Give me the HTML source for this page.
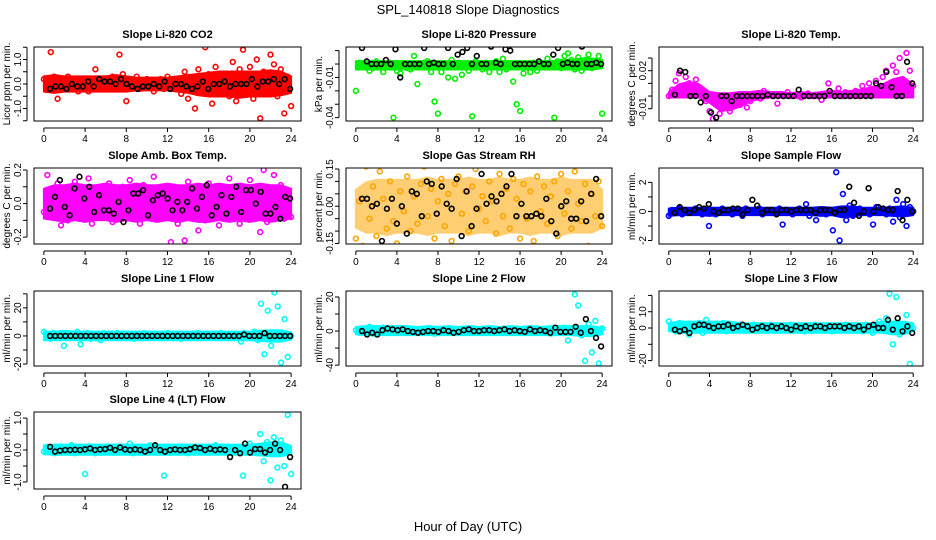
<!DOCTYPE html>
<html><head><meta charset="utf-8"><style>
body{margin:0;background:#fff;}
svg{display:block;font-family:"Liberation Sans",sans-serif;}
</style></head><body>
<svg id="chart" width="936" height="540" viewBox="0 0 936 540" xmlns="http://www.w3.org/2000/svg">
<text x="468" y="14" text-anchor="middle" font-size="13">SPL_140818  Slope Diagnostics</text>
<text x="468" y="531" text-anchor="middle" font-size="13">Hour of Day (UTC)</text>
</svg>
<script>
// ---- data (colored = all samples, black = summary) ----
const xTicks = [0,4,8,12,16,20,24];
const titles = ["Slope Li-820 CO2","Slope Li-820 Pressure","Slope Li-820 Temp.","Slope Amb. Box Temp.","Slope Gas Stream RH","Slope Sample Flow","Slope Line 1 Flow","Slope Line 2 Flow","Slope Line 3 Flow","Slope Line 4 (LT) Flow"];
const yTitles = ["Licor ppm per min.","kPa per min.","degrees C per min.","degrees C per min.","percent per min.","ml/min per min.","ml/min per min.","ml/min per min.","ml/min per min.","ml/min per min."];
const colors = ["#ff0000","#00ee00","#ff00ff","#ff00ff","#ffa500","#0000ff","#00ffff","#00ffff","#00ffff","#00ffff"];
const yLims = [[-1.51,1.51],[-0.0425,0.0127],[-0.0197,0.0387],[-0.241,0.212],[-0.152,0.154],[-2.24,2.99],[-21.4,32],[-41,47],[-23.3,22.7],[-1.22,1.19]];
const yTickVals = [[-1.5,-1,-0.5,0,0.5,1,1.5],[-0.04,-0.03,-0.02,-0.01,0,0.01],[-0.01,0,0.01,0.02,0.03],[-0.2,-0.1,0,0.1,0.2],[-0.15,-0.1,-0.05,0,0.05,0.1,0.15],[-2,-1,0,1,2],[-20,-10,0,10,20,30],[-40,-20,0,20,40],[-20,-10,0,10,20],[-1,-0.5,0,0.5,1]];
const yTickLabels = [["","-1.0","","0.0","","1.0",""],["-0.04","","","-0.01","",""],["-0.01","","","0.02",""],["-0.2","","0.0","","0.2"],["-0.15","","","0.00","","","0.15"],["-2","","0","","2"],["-20","","0","","20",""],["-40","","0","","20"],["-20","","0","10",""],["-1.0","","0.0","","1.0"]];

// dense-sample envelope per hour (0..24)
const lo0 = [-0.25,-0.3,-0.25,-0.25,-0.25,-0.25,-0.25,-0.25,-0.25,-0.2,-0.2,-0.2,-0.2,-0.25,-0.3,-0.4,-0.45,-0.45,-0.45,-0.5,-0.45,-0.45,-0.45,-0.4,-0.3];
const hi0 = [0.25,0.3,0.25,0.25,0.25,0.25,0.25,0.3,0.25,0.2,0.2,0.2,0.2,0.25,0.3,0.35,0.4,0.45,0.45,0.45,0.45,0.45,0.5,0.45,0.25];
const lo1 = [-0.003,-0.003,-0.003,-0.003,-0.003,-0.003,-0.003,-0.003,-0.003,-0.003,-0.003,-0.003,-0.003,-0.003,-0.003,-0.003,-0.003,-0.003,-0.003,-0.003,-0.003,-0.003,-0.003,-0.003,-0.002];
const hi1 = [0.001,0.001,0.001,0.001,0.001,0.001,0.001,0.001,0.001,0.001,0.001,0.001,0.001,0.001,0.001,0.001,0.001,0.001,0.001,0.001,0.002,0.002,0.003,0.003,0.002];
const lo2 = [0,0,0,0,-0.004,-0.01,-0.01,-0.007,-0.003,-0.001,0,0,0,0,0,0,0,0,0,0,0,0,0,0,0];
const hi2 = [0.002,0.008,0.01,0.008,0.002,0.001,0.001,0.002,0.002,0.003,0.002,0.002,0.001,0.002,0.001,0.002,0.003,0.002,0.003,0.004,0.006,0.008,0.012,0.014,0.008];
const lo3 = [-0.08,-0.09,-0.1,-0.09,-0.1,-0.09,-0.09,-0.1,-0.09,-0.1,-0.09,-0.1,-0.09,-0.1,-0.09,-0.1,-0.1,-0.09,-0.1,-0.09,-0.1,-0.09,-0.1,-0.09,-0.08];
const hi3 = [0.08,0.1,0.1,0.11,0.1,0.1,0.11,0.1,0.1,0.11,0.1,0.1,0.11,0.1,0.1,0.11,0.1,0.11,0.1,0.11,0.1,0.11,0.1,0.1,0.08];
const lo4 = [-0.08,-0.1,-0.1,-0.11,-0.1,-0.1,-0.1,-0.11,-0.1,-0.1,-0.1,-0.11,-0.1,-0.1,-0.11,-0.1,-0.1,-0.11,-0.1,-0.1,-0.11,-0.1,-0.1,-0.1,-0.08];
const hi4 = [0.06,0.09,0.1,0.1,0.1,0.1,0.1,0.11,0.1,0.1,0.1,0.11,0.1,0.1,0.11,0.1,0.1,0.11,0.1,0.1,0.11,0.1,0.1,0.1,0.06];
const lo5 = [-0.2,-0.15,-0.15,-0.15,-0.2,-0.15,-0.15,-0.15,-0.15,-0.15,-0.15,-0.15,-0.15,-0.15,-0.15,-0.2,-0.15,-0.3,-0.25,-0.15,-0.15,-0.15,-0.2,-0.25,-0.15];
const hi5 = [0.1,0.15,0.15,0.15,0.15,0.15,0.15,0.15,0.15,0.15,0.15,0.15,0.15,0.15,0.15,0.2,0.15,0.25,0.25,0.15,0.15,0.15,0.2,0.25,0.15];
const lo6 = [-2,-2,-2,-2,-2,-2,-2,-2,-2,-2,-2,-2,-2,-2,-2,-2,-2,-2,-2,-2,-2,-2.5,-3,-3,-1.5];
const hi6 = [2,2,2.5,2,2,2,2,2,2,2,2,2,2,2,2,2,2,2,2,2,2,2.5,3,3,1.5];
const lo7 = [-2,-3,-3,-3,-3,-3,-3,-3,-3,-3,-3,-3,-3,-3,-3,-3,-3,-3,-3,-3,-3,-3,-4,-4,-2];
const hi7 = [3,4,4,4,4,4,3,4,3,4,3,4,3,4,3,4,3,4,3,4,4,4,4,4,2];
const lo8 = [-1,-2,-2,-2,-2,-2,-2,-2,-2,-2,-2,-2,-2,-2,-2,-2,-2,-2,-2,-2,-2,-2,-3,-3,-1];
const hi8 = [2,3,3,3,3,3,3,2,2,2,2,2,2,2,2,2,2,2,2,2,2,3,3,3,2];
const lo9 = [-0.08,-0.1,-0.1,-0.1,-0.1,-0.1,-0.1,-0.1,-0.1,-0.1,-0.1,-0.1,-0.1,-0.1,-0.1,-0.1,-0.1,-0.1,-0.1,-0.1,-0.1,-0.12,-0.15,-0.15,-0.08];
const hi9 = [0.1,0.12,0.12,0.12,0.12,0.12,0.12,0.12,0.12,0.12,0.12,0.12,0.12,0.12,0.12,0.12,0.12,0.12,0.12,0.12,0.12,0.15,0.2,0.2,0.08];
const bandLo = [lo0,lo1,lo2,lo3,lo4,lo5,lo6,lo7,lo8,lo9];
const bandHi = [hi0,hi1,hi2,hi3,hi4,hi5,hi6,hi7,hi8,hi9];

const c0 = [0.2,-0.2,1.3,0.3,-0.6,0.1,-0.2,0.3,-0.1,0.2,-0.3,0.1,0.2,-0.3,-0.1,0.6,0.2,-0.2,0.1,-0.1,0.3,-0.2,1.2,0.4,-0.7,0.2,-0.1,0.3,-0.2,0.1,0.2,-0.1,-0.3,0.1,0.2,-0.2,0.3,0.1,-0.1,0.2,-0.4,0.5,-0.6,0.2,-1.0,0.6,-0.3,1.5,0.4,-0.8,0.7,-0.2,0.3,1.8,-0.5,0.9,-0.7,0.6,1.4,-0.4,0.7,-0.6,1.0,-1.4,0.5,-0.3,1.2,0.8,-0.5,0.6,-1.2,0.3,-0.9];
const b0 = [-0.2,-0.1,-0.1,-0.2,0.0,-0.1,-0.1,0.1,-0.1,0.2,0.1,0.1,0.0,0.2,0.0,-0.1,-0.2,-0.1,-0.1,0.0,-0.1,0.1,-0.2,0.0,0.0,-0.1,-0.2,-0.1,0.1,-0.2,0.0,0.0,0.1,-0.1,0.0,0.0,0.0,0.2,-0.1,0.1,0.1,0.2,0.0,0.2,-0.2];
const c1 = [-0.02,0.001,-0.001,0.000,-0.005,-0.003,0.002,-0.001,-0.006,-0.002,0.001,-0.04,-0.005,-0.007,0.000,-0.003,-0.004,0.006,-0.015,-0.002,0.001,0.002,-0.006,-0.028,-0.037,-0.006,0.000,-0.010,0.003,-0.011,0.001,-0.008,0.000,-0.005,-0.039,0.002,-0.002,-0.004,0.001,-0.006,0.000,0.002,-0.006,0.004,-0.004,-0.002,-0.013,-0.030,-0.035,-0.007,-0.002,-0.006,0.001,-0.005,0.000,-0.002,0.004,-0.001,-0.040,0.002,-0.003,0.006,0.008,0.003,-0.004,0.005,-0.005,0.003,0.007,-0.003,0.001,0.006,-0.037];
const b1 = [0.012,0.002,0.0,0.0,0.0,0.003,0.0,0.011,-0.01,0.0,0.0,0.0,0.0,0.012,0.0,0.001,0.0,0.0,0.012,0.0,0.007,0.009,0.012,0.0,0.006,0.0,0.0,0.013,0.001,0.0,0.011,0.010,0.0,0.0,0.0,0.0,0.0,0.002,0.0,0.0,0.007,0.012,0.0,0.001,0.0,0.0,0.013,0.0,0.0,0.001,0.0];
const c2 = [0.0,0.005,0.012,0.018,0.008,0.015,0.010,0.004,0.013,0.006,0.0,-0.004,-0.012,-0.018,-0.006,-0.014,-0.010,-0.008,-0.012,-0.005,-0.003,-0.007,0.001,-0.009,-0.004,0.0,0.002,-0.002,0.004,0.0,0.001,0.0,-0.006,0.001,0.0,0.003,0.0,0.001,0.0,-0.001,0.0,0.002,0.0,0.001,0.0,-0.003,0.0,0.010,0.002,0.0,0.006,0.0,0.003,0.0,0.001,0.004,0.0,0.008,0.001,0.010,0.004,0.012,0.006,0.015,0.020,0.008,0.024,0.019,0.030,0.012,0.034,0.020,0.008];
const b2 = [0.001,0.020,0.019,0.0,0.0,-0.005,0.0,-0.013,-0.017,0.0,0.0,-0.004,0.0,0.0,0.0,0.0,0.0,0.0,0.001,0.0,0.0,0.0,0.0,0.0,0.005,0.0,0.0,0.0,0.0,0.0,0.004,0.0,0.0,0.0,0.0,0.0,0.0,0.0,0.0,0.010,0.008,0.019,0.007,0.0,0.0,0.027,0.010];
const c3 = [-0.05,0.17,-0.07,0.05,0.12,-0.13,0.08,-0.10,0.02,0.13,-0.06,0.10,-0.03,0.15,-0.12,0.06,-0.08,0.09,-0.01,0.12,-0.11,0.04,-0.05,0.10,-0.09,0.14,-0.02,0.07,-0.12,0.11,-0.06,0.03,0.16,-0.08,0.05,-0.04,0.10,-0.23,0.08,-0.12,0.02,-0.22,0.13,-0.06,0.09,-0.16,0.04,-0.10,0.12,-0.03,0.07,-0.13,0.10,-0.07,0.15,-0.04,0.06,-0.12,0.09,-0.08,0.14,-0.02,0.05,-0.17,0.20,-0.11,0.08,0.17,-0.06,0.11,-0.09,0.03,-0.08];
const b3 = [-0.03,0.04,0.14,-0.02,-0.07,0.09,0.16,0.03,0.10,-0.05,0.05,-0.04,-0.04,-0.06,0.01,-0.11,-0.04,0.06,0.06,0.08,-0.07,0.02,0.05,0.06,0.03,-0.04,0.01,-0.04,0.01,0.09,-0.03,0.04,0.11,-0.07,-0.02,0.05,-0.06,0.04,0.10,-0.05,0.08,0.08,0.00,0.07,-0.06,-0.06,-0.02,-0.09,0.04,0.03];
const c4 = [-0.13,0.02,-0.16,0.16,-0.05,0.08,-0.12,0.14,0.03,-0.09,0.10,-0.06,-0.15,0.06,-0.02,0.12,-0.10,0.04,-0.07,0.09,0.16,-0.04,0.07,-0.13,0.02,0.11,-0.08,0.05,-0.14,0.09,0.12,-0.03,0.06,-0.10,0.08,0.15,-0.01,0.04,-0.06,0.10,0.02,-0.11,0.13,-0.04,0.07,-0.09,0.11,0.03,-0.13,0.09,-0.05,0.06,-0.14,0.12,-0.02,0.08,-0.07,0.04,0.10,-0.12,0.13,-0.03,0.06,-0.09,0.14,0.01,-0.06,0.09,-0.16,0.05,-0.04,0.10,-0.08];
const b4 = [0.03,0.03,0.00,0.01,-0.14,-0.01,0.03,-0.07,0.00,-0.11,0.06,0.05,-0.04,0.10,0.09,-0.03,0.08,0.01,-0.01,0.11,-0.12,0.06,-0.08,-0.01,0.13,0.01,0.04,0.02,0.05,0.08,0.13,-0.04,0.01,-0.04,-0.04,-0.03,-0.04,0.03,-0.06,-0.11,0.00,0.02,-0.05,-0.05,0.02,-0.06,0.05,0.11,-0.04];
const c5 = [-0.3,0.1,-0.1,0.2,-0.2,0.1,0.0,-0.1,0.2,0.1,-0.2,0.0,-1.0,0.1,-0.2,0.0,0.2,-0.1,0.1,-0.2,0.0,0.1,-0.3,0.2,0.0,-0.1,0.1,0.2,-0.2,0.0,0.1,-0.1,0.0,0.2,-0.9,0.1,0.0,-0.2,0.1,0.2,0.0,0.5,-0.3,0.0,-0.6,0.1,0.0,-0.2,0.1,-1.3,2.7,-2.0,1.2,-0.6,0.4,-0.3,0.1,0.2,-0.1,0.0,-0.2,-0.9,0.3,0.0,0.1,-0.2,0.2,-0.7,0.8,-0.4,0.5,-1.0,0.3,0.0];
const b5 = [-0.1,0.3,0.1,-0.1,0.1,0.3,0.2,0.5,0.0,-0.1,0.1,0.1,0.2,0.2,-0.2,0.1,0.8,0.4,-0.1,0.1,0.1,-0.2,0.1,0.1,0.0,0.1,0.1,0.1,0.1,-0.1,0.1,0.1,0.1,-0.1,0.1,0.1,1.7,0.6,-0.3,0.0,1.6,0.0,0.3,0.2,0.1,0.1,1.4,-0.6,0.8,0.0];
const c6 = [3,0,-2,2,1,-1,-7,2,0,-1,3,-6,1,2,-2,0,1,-3,2,0,1,-1,2,0,-1,1,0,-2,1,0,2,-1,0,1,-1,0,1,2,-1,0,1,-2,0,1,-1,0,2,-1,0,1,0,-1,1,2,-1,0,1,0,-1,-4,2,-1,0,3,-3,23,-13,18,-7,31,21,-19,12,-15,0];
const b6 = [0,0,0,0,0,0,0,0,0,0,0,0,0,0,0,0,0,0,0,0,0,0,0,0,0,0,0,0,0,0,0,0,0,0,0,0,0,0,1,0,0,0,2,0,0,0,0,0];
const c7 = [1,-2,3,0,5,-3,2,-1,4,0,-2,3,1,-1,2,0,3,-2,1,0,-1,2,1,-3,0,2,-1,3,0,-2,1,2,-1,0,3,-2,1,0,2,-1,3,0,-2,1,2,-1,0,3,-1,2,0,-2,1,3,-1,0,2,-3,1,0,-2,4,-11,1,43,30,-5,-35,8,-25,12,-38,3];
const b7 = [0,-4,-2,-4,1,3,2,1,2,0,-1,-2,-1,0,0,-1,1,0,-2,-1,1,2,0,0,1,1,0,1,2,0,1,0,-1,2,0,1,0,-2,4,-1,-1,-1,5,-2,14,0,-8,-18];
const c8 = [4,0,-2,3,-1,2,-4,1,0,3,-3,5,1,-1,2,0,3,-2,1,0,-1,2,0,1,-1,2,0,-1,1,0,2,-1,0,1,-1,0,2,-1,0,1,-2,1,0,2,-1,0,1,0,-2,1,0,-1,2,0,1,-1,0,-2,2,0,-3,1,4,-1,6,21,-10,19,-4,2,8,-22,0];
const b8 = [-1,-2,-1,-3,1,2,2,1,0,1,1,2,0,1,2,1,-1,0,1,0,1,0,1,0,-1,1,0,1,0,1,1,0,1,1,1,0,1,0,1,-1,1,2,0,0,5,-1,6,-2,1,-3];
const c9 = [-0.05,0.1,0.0,-0.1,0.05,0.1,-0.05,0.0,0.15,-0.1,0.05,-0.05,-0.75,0.1,0.0,-0.1,0.05,0.0,-0.05,0.1,0.0,-0.05,0.05,0.1,0.0,0.2,-0.1,0.05,0.0,-0.05,0.1,0.15,0.0,-0.05,0.05,-0.8,0.1,0.0,-0.05,0.05,0.0,0.1,-0.1,0.05,0.0,-0.05,0.1,0.0,0.05,-0.05,0.15,0.0,0.05,-0.05,0.1,0.0,-0.05,-0.1,-0.8,0.05,0.2,0.1,-0.1,0.5,-0.35,0.25,-0.95,0.4,-0.55,0.3,-0.5,1.1,-0.75];
const b9 = [0.1,-0.05,-0.02,0.0,0.0,0.01,0.0,0.02,0.05,0.0,0.02,0.03,0.07,0.0,0.08,0.02,0.0,0.02,0.0,-0.05,0.0,0.15,0.0,-0.05,0.0,0.02,0.0,0.0,0.03,0.08,0.06,0.0,0.04,0.0,0.02,0.0,-0.22,0.0,-0.1,0.2,-0.08,0.03,0.03,-0.08,0.0,0.2,0.0,-1.15,-0.22];
const colorSeries = [c0,c1,c2,c3,c4,c5,c6,c7,c8,c9];
const blackSeries = [b0,b1,b2,b3,b4,b5,b6,b7,b8,b9];

// ---- layout ----
const colX = [[34,301],[346,612],[659,923]];
const rowY = [[47,121],[168,244],[291,366],[412,489]];
const NS = "http://www.w3.org/2000/svg";
const svg = document.getElementById("chart");
function mk(tag, attrs, parent){
  const e = document.createElementNS(NS, tag);
  for (const k in attrs) e.setAttribute(k, attrs[k]);
  (parent||svg).appendChild(e);
  return e;
}
for (let p = 0; p < 10; p++) {
  const col = p % 3, row = Math.floor(p / 3);
  const [L, R] = colX[col], [T, B] = rowY[row];
  const xs = h => L + (h + 0.96) / 25.92 * (R - L);
  const [y0, y1] = yLims[p];
  const ys = v => B - (v - y0) / (y1 - y0) * (B - T);
  const g = mk("g", {});
  
  
  const clip = mk("clipPath", {id: "cp" + p}, g);
  mk("rect", {x: L, y: T, width: R - L, height: B - T}, clip);
  const t = mk("text", {x: (L + R) / 2, y: T - 9, "text-anchor": "middle", "font-size": "11", "font-weight": "bold"}, g);
  t.textContent = titles[p];
  
  
  const yt = mk("text", {transform: `translate(${L - 24},${(T + B) / 2}) rotate(-90)`, "text-anchor": "middle", "font-size": "10"}, g);
  yt.textContent = yTitles[p];
  
  
  const xa = mk("path", {d: `M${xs(0)},${B + 7}H${xs(24)}`, stroke: "#000", fill: "none"}, g);
  
  
  xTicks.forEach(v => {
    mk("line", {x1: xs(v), x2: xs(v), y1: B + 7, y2: B + 11, stroke: "#000"}, g);
    const tl = mk("text", {x: xs(v), y: B + 21, "text-anchor": "middle", "font-size": "10"}, g);
    tl.textContent = v;
    
    
  });
  const tv = yTickVals[p];
  const ya = mk("path", {d: `M${L - 7},${ys(tv[0])}V${ys(tv[tv.length - 1])}`, stroke: "#000", fill: "none"}, g);
  
  
  tv.forEach((v, i) => {
    mk("line", {x1: L - 11, x2: L - 7, y1: ys(v), y2: ys(v), stroke: "#000"}, g);
    if (yTickLabels[p][i]) {
      const tl = mk("text", {transform: `translate(${L - 13},${ys(v)}) rotate(-90)`, "text-anchor": "middle", "font-size": "10"}, g);
      tl.textContent = yTickLabels[p][i];
      
      
    }
  });
  const pts = mk("g", {"clip-path": `url(#cp${p})`, fill: "none", "stroke-width": "1.6"}, g);
  const lo = bandLo[p], hi = bandHi[p];
  let d = "";
  hi.forEach((v, h) => { d += (h ? "L" : "M") + xs(h) + "," + (ys(v) - 1.5); });
  for (let h = lo.length - 1; h >= 0; h--) d += "L" + xs(h) + "," + (ys(lo[h]) + 1.5);
  const band = mk("path", {d: d + "Z", fill: colors[p], stroke: colors[p], "stroke-width": "2", "stroke-linejoin": "round", opacity: p === 4 ? 0.55 : 1}, pts);
  
  
  const cs = colorSeries[p];
  cs.forEach((v, i) => {
    const h = i * 24 / (cs.length - 1);
    const c = mk("circle", {cx: xs(h), cy: ys(v), r: 2.4, stroke: colors[p]}, pts);
    
    
  });
  const bs = blackSeries[p];
  bs.forEach((v, i) => {
    const h = 0.6 + i * 23.3 / (bs.length - 1);
    const c = mk("circle", {cx: xs(h), cy: ys(v), r: 2.4, stroke: "#000"}, pts);
    
    
  });
  const box = mk("rect", {x: L, y: T, width: R - L, height: B - T, fill: "none", stroke: "#000"}, g);
  
  
}
</script>
</body></html>
